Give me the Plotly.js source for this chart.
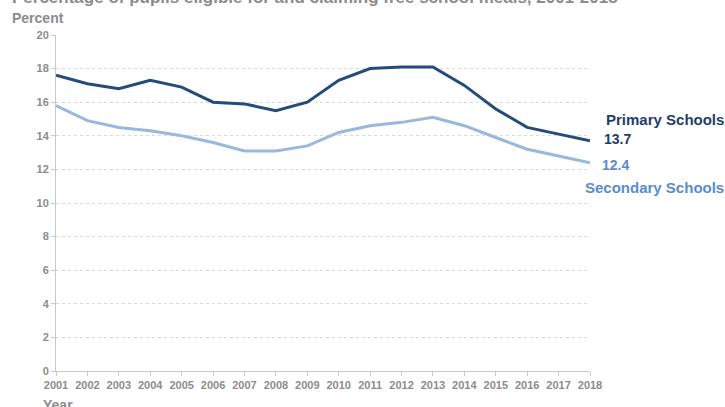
<!DOCTYPE html>
<html><head><meta charset="utf-8">
<script src="https://cdn.plot.ly/plotly-3.0.1.min.js"></script>
<style>html,body{margin:0;padding:0;background:#fff}</style>
</head><body><div id="chart" style="width:725px;height:407px"></div>
<script>
const years = [2001,2002,2003,2004,2005,2006,2007,2008,2009,2010,2011,2012,2013,2014,2015,2016,2017,2018];
const primary = [17.6,17.1,16.8,17.3,16.9,16.0,15.9,15.5,16.0,17.3,18.0,18.1,18.1,17.0,15.6,14.5,14.1,13.7];
const secondary = [15.8,14.9,14.5,14.3,14.0,13.6,13.1,13.1,13.4,14.2,14.6,14.8,15.1,14.6,13.9,13.2,12.8,12.4];
const yTicks = [0,2,4,6,8,10,12,14,16,18,20];

const primaryColor = '#254a7c';
const secondaryColor = '#9ab8de';
const gray = '#8c8c8c';
const font = 'Liberation Sans, Arial, sans-serif';

const traces = [
  {x: years, y: primary, mode: 'lines', line: {color: primaryColor, width: 3}, hoverinfo: 'none'},
  {x: years, y: secondary, mode: 'lines', line: {color: secondaryColor, width: 3}, hoverinfo: 'none'}
];

const last = years.length - 1;
const layout = {
  width: 725, height: 407,
  margin: {l: 56, r: 135, t: 35, b: 36},
  paper_bgcolor: '#fff', plot_bgcolor: '#fff',
  showlegend: false,
  font: {family: font, color: gray, size: 11},
  xaxis: {range: [years[0], years[last]], tickvals: years, ticktext: years.map(String),
          showgrid: false, zeroline: false, showline: true, linecolor: '#c8c8c8', linewidth: 1,
          ticks: 'outside', ticklen: 4, tickcolor: '#c8c8c8',
          tickfont: {family: font, size: 11, color: gray, weight: 'bold'}},
  yaxis: {range: [0, 20], tickvals: yTicks, showgrid: true, gridcolor: '#dadada', griddash: 'dot', gridwidth: 1,
          zeroline: false, showline: true, linecolor: '#c8c8c8', linewidth: 1,
          ticks: 'outside', ticklen: 4, tickcolor: '#c8c8c8',
          tickfont: {family: font, size: 11, color: gray, weight: 'bold'}},
  annotations: [
    {xref: 'paper', yref: 'paper', x: -0.087, y: 1.112, xanchor: 'left', yanchor: 'middle', showarrow: false,
     text: '<b>Percentage of pupils eligible for and claiming free school meals, 2001-2018</b>',
     font: {family: font, size: 17, color: gray}},
    {xref: 'paper', yref: 'paper', x: -0.087, y: 1.05, xanchor: 'left', yanchor: 'middle', showarrow: false,
     text: '<b>Percent</b>', font: {family: font, size: 14, color: gray}},
    {xref: 'paper', yref: 'paper', x: -0.028, y: -0.102, xanchor: 'left', yanchor: 'middle', showarrow: false,
     text: '<b>Year</b>', font: {family: font, size: 14, color: gray}},
    {xref: 'x', yref: 'y', x: years[last], y: primary[last], xanchor: 'left', yanchor: 'middle', showarrow: false,
     xshift: 12, yshift: 2, text: '<b>' + primary[last].toFixed(1) + '</b>', font: {family: font, size: 14, color: '#1f3d6b'}},
    {xref: 'x', yref: 'y', x: years[last], y: secondary[last], xanchor: 'left', yanchor: 'middle', showarrow: false,
     xshift: 10, yshift: -2, text: '<b>' + secondary[last].toFixed(1) + '</b>', font: {family: font, size: 14, color: '#5a8cce'}},
    {xref: 'paper', yref: 'y', x: 1.255, y: 14.95, xanchor: 'right', yanchor: 'middle', showarrow: false,
     text: '<b>Primary Schools</b>', font: {family: font, size: 15, color: '#1f3d6b'}},
    {xref: 'paper', yref: 'y', x: 1.255, y: 10.95, xanchor: 'right', yanchor: 'middle', showarrow: false,
     text: '<b>Secondary Schools</b>', font: {family: font, size: 15, color: '#5a8cce'}}
  ]
};
Plotly.newPlot('chart', traces, layout, {staticPlot: true, displayModeBar: false});
</script></body></html>
